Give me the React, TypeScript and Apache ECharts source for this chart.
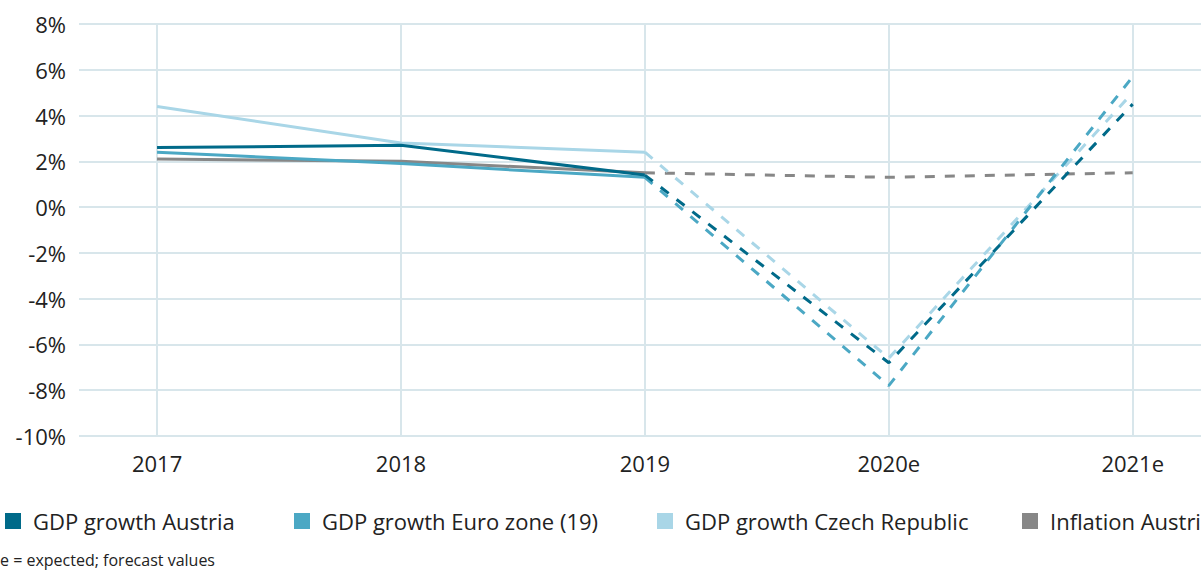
import React, { useEffect, useRef } from "react";
import * as echarts from "echarts";

const categories = ["2017", "2018", "2019", "2020e", "2021e"];
const seriesNames = [
  "GDP growth Austria",
  "GDP growth Euro zone (19)",
  "GDP growth Czech Republic",
  "Inflation Austria",
];
const austria = [2.6, 2.7, 1.4, -6.8, 4.5];
const euroZone = [2.4, 1.9, 1.3, -7.8, 5.7];
const czech = [4.4, 2.8, 2.4, -6.6, 5.0];
const inflation = [2.1, 2.0, 1.5, 1.3, 1.5];
const lastActualIndex = 2;
const yTicks = { min: -10, max: 8, step: 2 };
const note = "e = expected; forecast values";

const colors = ["#006A89", "#4BA8C4", "#A9D6E7", "#878787"];
const zOrder = [5, 4, 3, 2];
const legendLefts = [5, 294, 657, 1022];
const FONT = "'Open Sans', 'Noto Sans', sans-serif";

export default function App() {
  const ref = useRef<HTMLDivElement>(null);
  useEffect(() => {
    if (!ref.current) return;
    const chart = echarts.init(ref.current, undefined, { renderer: "svg" });
    const all = [austria, euroZone, czech, inflation];
    const series: any[] = [];
    all.forEach((vals, i) => {
      const pts = vals.map((v, idx) => [idx, v]);
      series.push({
        name: seriesNames[i],
        type: "line",
        data: pts.slice(0, lastActualIndex + 1),
        showSymbol: false,
        symbol: "none",
        z: zOrder[i],
        lineStyle: { color: colors[i], width: 3 },
        itemStyle: { color: colors[i] },
      });
      series.push({
        name: seriesNames[i],
        type: "line",
        data: pts.slice(lastActualIndex),
        showSymbol: false,
        symbol: "none",
        z: zOrder[i],
        lineStyle: { color: colors[i], width: 3, type: [10, 10] },
        itemStyle: { color: colors[i] },
      });
    });
    const legends = seriesNames.map((n, i) => ({
      data: [{ name: n, icon: "rect", itemStyle: { color: colors[i] } }],
      left: legendLefts[i],
      top: 510,
      padding: 0,
      itemWidth: 16,
      itemHeight: 16,
      selectedMode: false,
      textStyle: {
        fontFamily: FONT,
        fontSize: 22,
        color: "#222",
        padding: [0, 0, 0, 7],
      },
    }));
    chart.setOption({
      animation: false,
      backgroundColor: "#fff",
      grid: { left: 79, right: 0, top: 24, bottom: 135, containLabel: false },
      legend: legends,
      title: {
        text: note,
        left: 0,
        top: 552,
        padding: 0,
        textStyle: {
          fontFamily: FONT,
          fontSize: 16,
          fontWeight: "normal",
          color: "#222",
        },
      },
      xAxis: {
        type: "value",
        min: -0.32,
        max: 4.28,
        minInterval: 1,
        maxInterval: 1,
        axisLine: { show: false },
        axisTick: { show: false },
        splitLine: {
          show: true,
          showMinLine: false,
          showMaxLine: false,
          lineStyle: { color: "#D8E6EB", width: 2 },
        },
        axisLabel: {
          showMinLabel: false,
          showMaxLabel: false,
          margin: 16,
          fontFamily: FONT,
          fontSize: 22,
          color: "#222",
          formatter: (v: number) =>
            Math.abs(v - Math.round(v)) < 1e-6 && categories[Math.round(v)] !== undefined
              ? categories[Math.round(v)]
              : "",
        },
      },
      yAxis: {
        type: "value",
        min: yTicks.min,
        max: yTicks.max,
        interval: yTicks.step,
        axisLine: { show: false },
        axisTick: { show: false },
        splitLine: { show: true, lineStyle: { color: "#D8E6EB", width: 2 } },
        axisLabel: {
          margin: 13,
          fontFamily: FONT,
          fontSize: 22,
          color: "#222",
          formatter: (v: number) => `${v}%`,
        },
      },
      series,
    });
    return () => chart.dispose();
  }, []);
  return (
    <div
      ref={ref}
      style={{ position: "absolute", left: 0, top: 0, width: 1201, height: 571 }}
    />
  );
}
